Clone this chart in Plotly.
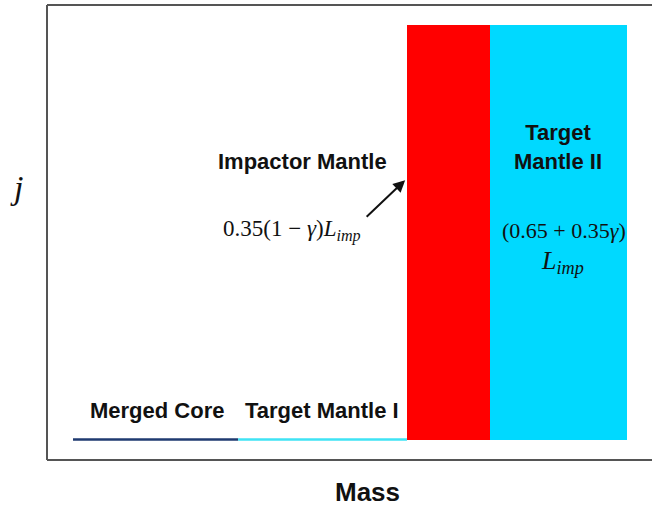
import plotly.graph_objects as go

# Mass segments (arbitrary mass units along x) and specific angular momentum j (arbitrary units)
segments = ["Merged Core", "Target Mantle I", "Impactor Mantle", "Target Mantle II"]
mass_start = [4.3, 31.6, 59.5, 73.2]
mass_end = [31.6, 59.5, 73.2, 95.9]
j_low = [0.045, 0.045, 0.045, 0.045]
j_high = [0.045, 0.045, 0.956, 0.956]
colors = ["#1F3A70", "#3FE3F4", "#FF0000", "#00D9FF"]

fig = go.Figure()

# line segments (zero-width layers)
for i in range(2):
    fig.add_trace(go.Scatter(
        x=[mass_start[i], mass_end[i]], y=[j_low[i], j_high[i]],
        mode="lines", line=dict(color=colors[i], width=2.5),
        hoverinfo="skip", showlegend=False))

# block layers
for i in range(2, 4):
    fig.add_trace(go.Bar(
        x=[(mass_start[i] + mass_end[i]) / 2],
        width=[mass_end[i] - mass_start[i]],
        base=[j_low[i]], y=[j_high[i] - j_low[i]],
        marker=dict(color=colors[i], line=dict(width=0)),
        hoverinfo="skip", showlegend=False))

sans = "Liberation Sans"
serif = "Liberation Serif"
bold = dict(family=sans, size=22, color="#111111")
mathf = dict(family=serif, size=22, color="#111111")

ann = [
    dict(x=42.3, y=0.657, text="<b>Impactor Mantle</b>", font=bold),
    dict(x=40.5, y=0.505, text="0.35(1 − <i>γ</i>)<i>L<sub>imp</sub></i>", font=dict(family=serif, size=23, color="#111111")),
    dict(x=84.5, y=0.688, text="<b>Target<br>Mantle II</b>", font=bold),
    dict(x=85.5, y=0.505, text="(0.65 + 0.35<i>γ</i>)", font=mathf),
    dict(x=85.2, y=0.435, text="<i>L<sub>imp</sub></i>", font=dict(family=serif, size=26, color="#111111")),
    dict(x=18.2, y=0.108, text="<b>Merged Core</b>", font=bold),
    dict(x=45.5, y=0.108, text="<b>Target Mantle I</b>", font=bold),
]
for a in ann:
    fig.add_annotation(xref="x", yref="y", showarrow=False, **a)

# arrow
fig.add_annotation(xref="x", yref="y", x=59.2, y=0.615, ax=-40, ay=38,
                   text="", showarrow=True, arrowhead=2, arrowsize=1.2,
                   arrowwidth=2, arrowcolor="#111111")

# axis labels
fig.add_annotation(xref="paper", yref="paper", x=-0.051, y=0.6, text="<i>j</i>",
                   xanchor="center", yanchor="middle",
                   showarrow=False, font=dict(family=serif, size=34, color="#111111"))
fig.add_annotation(xref="paper", yref="paper", x=0.529, y=-0.07, text="<b>Mass</b>",
                   xanchor="center", yanchor="middle",
                   showarrow=False, font=dict(family=sans, size=26, color="#111111"))

# open frame: left, top and bottom edges only
frame = dict(type="line", xref="paper", yref="paper", line=dict(color="#555555", width=2))
fig.add_shape(x0=0, x1=0, y0=0, y1=1, **frame)
fig.add_shape(x0=0, x1=1.02, y0=1, y1=1, **frame)
fig.add_shape(x0=0, x1=1.02, y0=0, y1=0, **frame)

fig.update_layout(
    width=652, height=506,
    margin=dict(l=47, r=0, t=5, b=46),
    paper_bgcolor="white", plot_bgcolor="white",
    barmode="overlay", bargap=0,
    xaxis=dict(range=[0, 100], showgrid=False, zeroline=False, showticklabels=False,
               ticks="", showline=False),
    yaxis=dict(range=[0, 1], showgrid=False, zeroline=False, showticklabels=False,
               ticks="", showline=False),
)

fig.write_html("out.html", config={"displayModeBar": False},
               post_script="document.body.style.margin='0';document.body.style.overflow='hidden';")
